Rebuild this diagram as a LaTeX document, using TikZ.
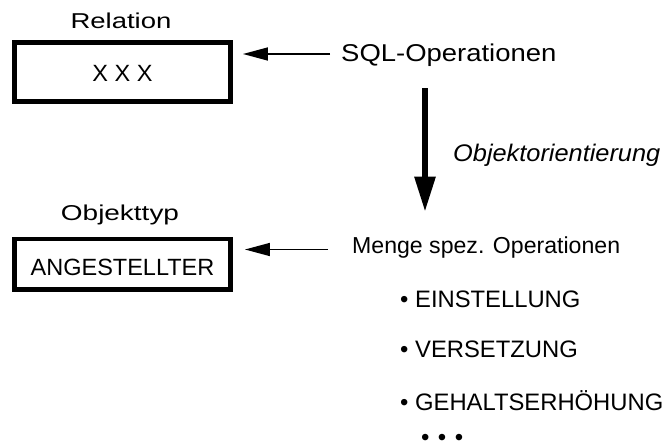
\documentclass[tikz,border=0pt]{standalone}
\usepackage{fontspec}
\usepackage{graphicx}
\setmainfont{Liberation Sans}
\usetikzlibrary{arrows.meta}
\newcommand{\fsz}[1]{\fontsize{#1}{#1}\selectfont}
\begin{document}
\begin{tikzpicture}[x=1pt,y=-1pt,
  txt/.style={inner sep=0pt, font=\fsz{23.5}},
  box/.style={draw, line width=4.5pt, minimum width=216.4pt, inner sep=0pt, font=\fsz{23.5}},
  thinarr/.style={line width=1.5pt, -{Triangle[length=25pt,width=13pt]}},
  bigarr/.style={line width=5.7pt, -{Triangle[length=35pt,width=20pt]}}]
\useasboundingbox (0,0) rectangle (670,447);

% top: relation
\node[inner sep=0pt, anchor=base, font=\fsz{21.5}] (relt) at (121,28) {\scalebox{1.28}[1]{Relation}};
\node[box, minimum height=59.4pt, text height=19.4pt, text depth=0pt] (rel) at (122.5,72) {X X X};
\node[inner sep=0pt, anchor=base west, font=\fsz{24.3}] (sql) at (341,61.7) {\scalebox{1.13}[1]{SQL-Operationen}};
\coordinate (a1) at (330,54);
\draw[thinarr, shorten >=10pt] (a1) -- (a1 -| rel.east);

% vertical arrow
\coordinate (v1) at (425,88.3);
\coordinate (v2) at (425,211.7);
\draw[bigarr] (v1) -- (v2);
\node[inner sep=0pt, anchor=base west, font=\fsz{24}\itshape] (oo) at (453,161.7) {\scalebox{1.056}[1]{Objektorientierung}};

% bottom: object type
\node[inner sep=0pt, anchor=base, font=\fsz{21.5}] (objt) at (120,220) {\scalebox{1.3}[1]{Objekttyp}};
\node[box, minimum height=50.4pt, text height=23.4pt, text depth=0pt] (ang) at (122.5,264.2) {ANGESTELLTER};
\node[inner sep=0pt, anchor=base west, font=\fsz{23.1}] (menge) at (352,253.3) {Menge spez. Operationen};
\coordinate (a2) at (328,249.5);
\draw[thinarr, shorten >=12pt] (a2) -- (a2 -| ang.east);

% list
\node[inner sep=0pt, anchor=base west, font=\fsz{23.8}] (l1) at (400,307.3) {• EINSTELLUNG};
\node[inner sep=0pt, anchor=base west, font=\fsz{23.8}] (l2) at (400,357.3) {• VERSETZUNG};
\node[inner sep=0pt, anchor=base west, font=\fsz{23.8}] (l3) at (400,410) {• GEHALTSERHÖHUNG};
\node[inner sep=0pt, anchor=base west, font=\fsz{24}] (dots) at (420.8,445.5) {•\hspace{8.6pt}•\hspace{8.6pt}•};
\end{tikzpicture}
\end{document}
